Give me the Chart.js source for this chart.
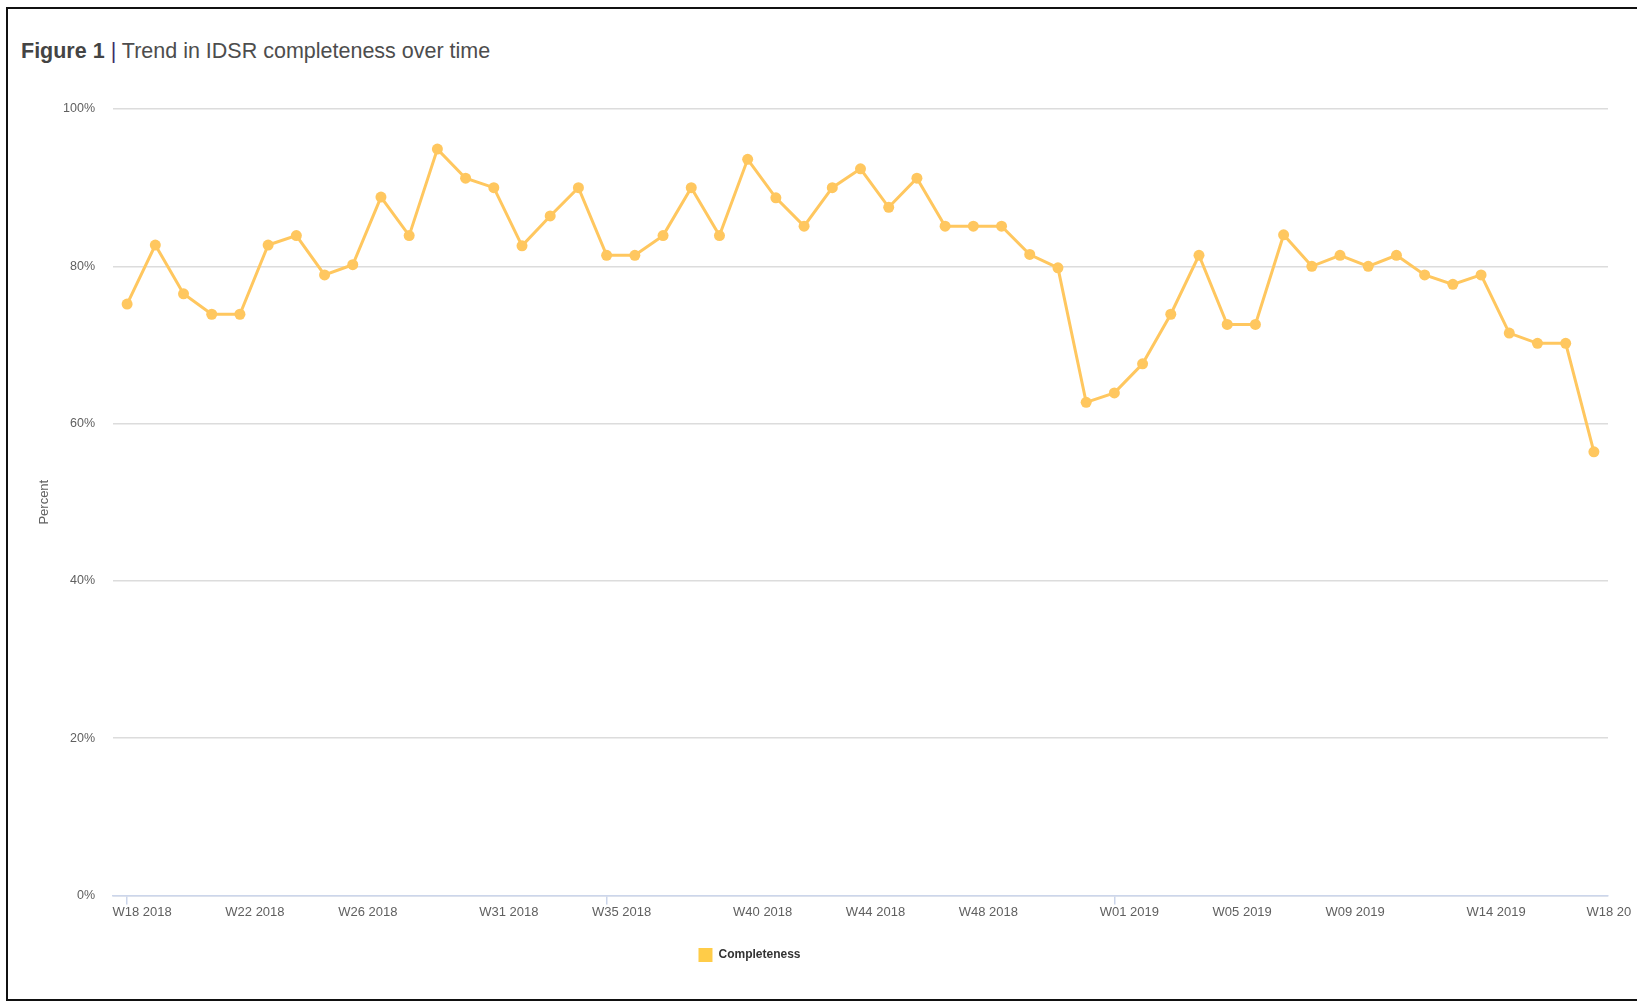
<!DOCTYPE html>
<html>
<head>
<meta charset="utf-8">
<script src="https://cdn.jsdelivr.net/npm/chart.js@4/dist/chart.umd.min.js"></script>
<style>
    html, body { margin: 0; padding: 0; background: #fff; overflow: hidden; }
    body { width: 1637px; height: 1002px; position: relative; }
    #frame {
        position: absolute; left: 6px; top: 7px; width: 1700px; height: 994px;
        box-sizing: border-box; border: 2px solid #111;
    }
    #title {
        position: absolute; left: 21px; top: 39px; line-height: 24px;
        font-family: "Liberation Sans", Arial, sans-serif; font-size: 21.5px; color: #4d4d4d;
        white-space: nowrap;
    }
    #title b { color: #444; }
    #title .sep { color: #3b2c66; }
    #chart { position: absolute; left: 0; top: 0; }
</style>
</head>
<body>
<div id="frame"></div>
<div id="title"><b>Figure 1</b> <span class="sep">|</span> Trend in IDSR completeness over time</div>
<canvas id="chart" width="1637" height="1002"></canvas>
<script>
// 周次 (W18 2018 - W18 2019)
const weeks = [
    'W18 2018', 'W19 2018', 'W20 2018', 'W21 2018', 'W22 2018', 'W23 2018', 'W24 2018', 'W25 2018',
    'W26 2018', 'W27 2018', 'W28 2018', 'W29 2018', 'W30 2018', 'W31 2018', 'W32 2018', 'W33 2018',
    'W34 2018', 'W35 2018', 'W36 2018', 'W37 2018', 'W38 2018', 'W39 2018', 'W40 2018', 'W41 2018',
    'W42 2018', 'W43 2018', 'W44 2018', 'W45 2018', 'W46 2018', 'W47 2018', 'W48 2018', 'W49 2018',
    'W50 2018', 'W51 2018', 'W52 2018', 'W01 2019', 'W02 2019', 'W03 2019', 'W04 2019', 'W05 2019',
    'W06 2019', 'W07 2019', 'W08 2019', 'W09 2019', 'W10 2019', 'W11 2019', 'W12 2019', 'W13 2019',
    'W14 2019', 'W15 2019', 'W16 2019', 'W17 2019', 'W18 2019'
];

// 完整性 (%)
const completeness = [
    75.2, 82.7, 76.5, 73.9, 73.9, 82.7, 83.9, 78.9, 80.2, 88.8,
    83.9, 94.9, 91.2, 90.0, 82.6, 86.4, 90.0, 81.4, 81.4, 83.9,
    90.0, 83.9, 93.6, 88.7, 85.1, 90.0, 92.4, 87.5, 91.2, 85.1,
    85.1, 85.1, 81.5, 79.8, 62.7, 63.9, 67.6, 73.9, 81.4, 72.6,
    72.6, 84.0, 80.0, 81.4, 80.0, 81.4, 78.9, 77.7, 78.9, 71.5,
    70.2, 70.2, 56.4
];

// x 轴上显示的刻度 (最后一个在原图中被截断)
const shownTicks = ['W18 2018', 'W22 2018', 'W26 2018', 'W31 2018', 'W35 2018', 'W40 2018', 'W44 2018',
    'W48 2018', 'W01 2019', 'W05 2019', 'W09 2019', 'W14 2019', 'W18 2019'];
const tickText = ['W18 2018', 'W22 2018', 'W26 2018', 'W31 2018', 'W35 2018', 'W40 2018', 'W44 2018',
    'W48 2018', 'W01 2019', 'W05 2019', 'W09 2019', 'W14 2019', 'W18 20'];

const yTicks = [0, 20, 40, 60, 80, 100];

const LINE_COLOR = '#ffc75f';
const LEGEND_COLOR = '#ffcc48';
const GRID_COLOR = '#dcdcdc';
const AXIS_COLOR = '#ccd6eb';
const LABEL_COLOR = '#606060';
const FONT_FAMILY = '"Liberation Sans", Arial, sans-serif';

const shownIdx = shownTicks.map(w => weeks.indexOf(w));

// 图例整体左移，与原图位置一致
const legendShift = {
    id: 'legendShift',
    afterLayout(chart) {
        chart.legend.left -= 67;
        chart.legend.right -= 67;
    }
};

new Chart(document.getElementById('chart'), {
    type: 'line',
    data: {
        labels: weeks,
        datasets: [{
            label: 'Completeness',
            data: completeness,
            borderColor: LINE_COLOR,
            backgroundColor: LINE_COLOR,
            borderWidth: 3,
            pointRadius: 5.5,
            pointBorderWidth: 0,
            pointBackgroundColor: LINE_COLOR,
            tension: 0,
            fill: false
        }]
    },
    options: {
        responsive: false,
        animation: false,
        layout: { padding: { left: 25, right: 29, top: 109, bottom: 30 } },
        scales: {
            x: {
                type: 'category',
                offset: true,
                grid: {
                    display: true,
                    drawOnChartArea: false,
                    tickLength: 9,
                    lineWidth: 1.5,
                    color: ctx => shownIdx.includes(ctx.index) ? AXIS_COLOR : 'rgba(0,0,0,0)',
                    tickColor: ctx => shownIdx.includes(ctx.index) ? AXIS_COLOR : 'rgba(0,0,0,0)'
                },
                border: { display: true, color: AXIS_COLOR, width: 1.5 },
                ticks: {
                    autoSkip: false,
                    maxRotation: 0,
                    padding: 0,
                    labelOffset: 15,
                    color: LABEL_COLOR,
                    font: { family: FONT_FAMILY, size: 13 },
                    callback: function(value, index) {
                        const k = shownIdx.indexOf(index);
                        return k >= 0 ? tickText[k] : null;
                    }
                }
            },
            y: {
                min: 0,
                max: 100,
                afterFit: scale => { scale.width = 113 - 25; },
                afterBuildTicks: scale => { scale.ticks = yTicks.map(v => ({ value: v })); },
                grid: { color: GRID_COLOR, lineWidth: 1.5, drawTicks: false },
                border: { display: false },
                ticks: {
                    padding: 18,
                    color: LABEL_COLOR,
                    font: { family: FONT_FAMILY, size: 12.5 },
                    callback: v => v + '%'
                },
                title: {
                    display: true,
                    text: 'Percent',
                    color: LABEL_COLOR,
                    font: { family: FONT_FAMILY, size: 13 },
                    padding: { top: 12, bottom: 0 }
                }
            }
        },
        plugins: {
            legend: {
                position: 'bottom',
                labels: {
                    boxWidth: 14,
                    boxHeight: 14,
                    padding: 28,
                    color: '#333',
                    font: { family: FONT_FAMILY, size: 12, weight: 'bold' },
                    generateLabels: chart => {
                        const items = Chart.defaults.plugins.legend.labels.generateLabels(chart);
                        items.forEach(it => { it.lineWidth = 0; it.fillStyle = LEGEND_COLOR; });
                        return items;
                    }
                }
            },
            tooltip: { enabled: false }
        }
    },
    plugins: [legendShift]
});
</script>
</body>
</html>
